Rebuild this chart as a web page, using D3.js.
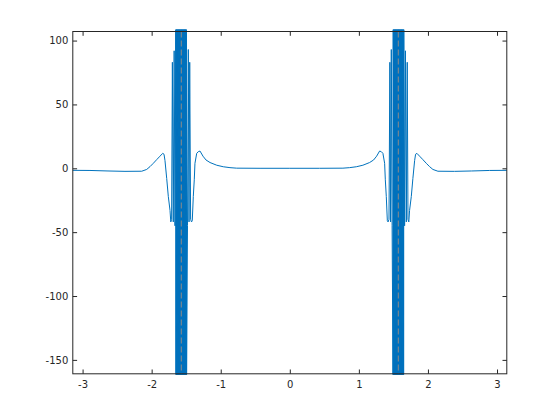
<!DOCTYPE html>
<html>
<head>
<meta charset="utf-8">
<script src="https://cdn.jsdelivr.net/npm/d3@7"></script>
<style>
  html, body { margin: 0; padding: 0; background: #fff; }
  svg { display: block; }
  .tick text { font-family: "DejaVu Sans", sans-serif; font-size: 10px; fill: #262626; }
</style>
</head>
<body>
<svg id="chart" width="560" height="420"></svg>
<script>
// ---- data ----
const xDomain = [-Math.PI, Math.PI];
const yDomain = [-160.9, 107.1];
const xTicks = [-3, -2, -1, 0, 1, 2, 3];
const yTicks = [-150, -100, -50, 0, 50, 100];
const asymptotes = [-Math.PI / 2, Math.PI / 2];

const outerLeftX = [
  -3.1416, -2.893, -2.632, -2.386, -2.144, -2.072, -2.024, -1.976, -1.923, -1.879,
  -1.840, -1.821, -1.807, -1.782, -1.759, -1.734, -1.723, -1.711, -1.700, -1.687,
  -1.674, -1.662
];
const outerLeftY = [
  -1.6, -1.7, -2.1, -2.4, -2.3, -0.9, 1.3, 3.9, 7.0, 9.5,
  11.7, 11.0, 6.0, -8, -22, -33, -42, -40, 83, -42,
  92, -45
];
const bandLeftX = [
  -1.6505, -1.6478, -1.6450, -1.6423, -1.6395, -1.6368, -1.6341, -1.6313, -1.6286, -1.6258,
  -1.6231, -1.6204, -1.6176, -1.6149, -1.6121, -1.6094, -1.6067, -1.6039, -1.6012, -1.5984,
  -1.5957, -1.5930, -1.5902, -1.5875, -1.5847, -1.5820, -1.5793, -1.5765, -1.5738, -1.5710,
  -1.5683, -1.5656, -1.5628, -1.5601, -1.5573, -1.5546, -1.5519, -1.5491, -1.5464, -1.5436,
  -1.5409, -1.5382, -1.5354, -1.5327, -1.5299, -1.5272, -1.5245, -1.5217, -1.5190, -1.5162,
  -1.5135, -1.5108, -1.5080, -1.5053, -1.5025, -1.4998, -1.4971, -1.4943
];
const bandLeftY = [
  108.5, -161.5, 108.5, -161.5, 108.5, -161.5, 108.5, -161.5, 108.5, -161.5,
  108.5, -161.5, 108.5, -161.5, 108.5, -161.5, 108.5, -161.5, 108.5, -161.5,
  108.5, -161.5, 108.5, -161.5, 108.5, -161.5, 108.5, -161.5, 108.5, -161.5,
  108.5, -161.5, 108.5, -161.5, 108.5, -161.5, 108.5, -161.5, 108.5, -161.5,
  108.5, -161.5, 108.5, -161.5, 108.5, -161.5, 108.5, -161.5, 108.5, -161.5,
  108.5, -161.5, 108.5, -161.5, 108.5, -161.5, 108.5, -161.5
];
const middleX = [
  -1.481, -1.4695, -1.459, -1.449, -1.436, -1.423, -1.412, -1.397, -1.383, -1.373,
  -1.348, -1.325, -1.300, -1.257, -1.213, -1.155, -1.058, -0.963, -0.866, -0.769,
  -0.431, 0, 0.431,
  0.769, 0.866, 0.963, 1.058, 1.155, 1.213, 1.257, 1.300, 1.325, 1.348,
  1.373, 1.383, 1.397, 1.412, 1.423, 1.436, 1.449, 1.459, 1.4695, 1.481
];
const middleY = [
  -45, 93, -42, 83, -40, -42, -41, -22, -9, 3.9,
  11.7, 13, 13.5, 9.5, 6.5, 4.5, 2.4, 1.2, 0.5, 0.1,
  0, 0, 0,
  0.1, 0.5, 1.2, 2.4, 4.5, 6.5, 9.5, 13.5, 13, 11.7,
  3.9, -9, -22, -41, -42, -40, 83, -42, 93, -45
];
const bandRightX = [
  1.4943, 1.4971, 1.4998, 1.5025, 1.5053, 1.5080, 1.5108, 1.5135, 1.5162, 1.5190,
  1.5217, 1.5245, 1.5272, 1.5299, 1.5327, 1.5354, 1.5382, 1.5409, 1.5436, 1.5464,
  1.5491, 1.5519, 1.5546, 1.5573, 1.5601, 1.5628, 1.5656, 1.5683, 1.5710, 1.5738,
  1.5765, 1.5793, 1.5820, 1.5847, 1.5875, 1.5902, 1.5930, 1.5957, 1.5984, 1.6012,
  1.6039, 1.6067, 1.6094, 1.6121, 1.6149, 1.6176, 1.6204, 1.6231, 1.6258, 1.6286,
  1.6313, 1.6341, 1.6368, 1.6395, 1.6423, 1.6450, 1.6478, 1.6505
];
const bandRightY = [
  -161.5, 108.5, -161.5, 108.5, -161.5, 108.5, -161.5, 108.5, -161.5, 108.5,
  -161.5, 108.5, -161.5, 108.5, -161.5, 108.5, -161.5, 108.5, -161.5, 108.5,
  -161.5, 108.5, -161.5, 108.5, -161.5, 108.5, -161.5, 108.5, -161.5, 108.5,
  -161.5, 108.5, -161.5, 108.5, -161.5, 108.5, -161.5, 108.5, -161.5, 108.5,
  -161.5, 108.5, -161.5, 108.5, -161.5, 108.5, -161.5, 108.5, -161.5, 108.5,
  -161.5, 108.5, -161.5, 108.5, -161.5, 108.5, -161.5, 108.5
];
const outerRightX = [
  1.662, 1.674, 1.687, 1.700, 1.711, 1.723, 1.734, 1.759, 1.782, 1.807,
  1.821, 1.840, 1.879, 1.923, 1.976, 2.024, 2.072, 2.144, 2.386, 2.632,
  2.893, 3.1416
];
const outerRightY = [
  -45, 92, -42, 83, -40, -42, -33, -22, -8, 6.0,
  11.0, 11.7, 9.5, 7.0, 3.9, 1.3, -0.9, -2.3, -2.4, -2.1,
  -1.7, -1.6
];

const xs = [].concat(outerLeftX, bandLeftX, middleX, bandRightX, outerRightX);
const ys = [].concat(outerLeftY, bandLeftY, middleY, bandRightY, outerRightY);

// ---- layout ----
const svg = d3.select("#chart");
const plotLeft = 72.8, plotRight = 506.8, plotTop = 31.5, plotBottom = 373.8;
const x = d3.scaleLinear().domain(xDomain).range([plotLeft, plotRight]);
const y = d3.scaleLinear().domain(yDomain).range([plotBottom, plotTop]);
const axisColor = "#262626";

const points = xs.map((d, i) => [d, ys[i]]);
const line = d3.line().x(d => x(d[0])).y(d => y(d[1]));

svg.append("path")
  .datum(points)
  .attr("d", line)
  .attr("fill", "none")
  .attr("stroke", "#0072BD")
  .attr("stroke-width", 1)
  .attr("stroke-linejoin", "miter");

svg.selectAll("line.asym")
  .data(asymptotes)
  .enter().append("line")
  .attr("class", "asym")
  .attr("x1", d => x(d)).attr("x2", d => x(d))
  .attr("y1", y(yDomain[1])).attr("y2", y(yDomain[0]))
  .attr("stroke", "#8a8a8a")
  .attr("stroke-width", 1)
  .attr("stroke-dasharray", "6,3");

function styleAxis(g) {
  g.select(".domain").remove();
  g.selectAll(".tick line").attr("stroke", axisColor);
}

svg.append("g")
  .attr("transform", `translate(0,${plotBottom})`)
  .call(d3.axisBottom(x).tickValues(xTicks).tickSizeInner(-4.3).tickSizeOuter(0)
    .tickPadding(7).tickFormat(d => String(d)))
  .call(styleAxis);
svg.append("g")
  .attr("transform", `translate(0,${plotTop})`)
  .call(d3.axisTop(x).tickValues(xTicks).tickSizeInner(-4.3).tickSizeOuter(0).tickFormat(""))
  .call(styleAxis);
svg.append("g")
  .attr("transform", `translate(${plotLeft},0)`)
  .call(d3.axisLeft(y).tickValues(yTicks).tickSizeInner(-4.3).tickSizeOuter(0)
    .tickPadding(4.5).tickFormat(d => String(d)))
  .call(styleAxis);
svg.append("g")
  .attr("transform", `translate(${plotRight},0)`)
  .call(d3.axisRight(y).tickValues(yTicks).tickSizeInner(-4.3).tickSizeOuter(0).tickFormat(""))
  .call(styleAxis);

svg.append("rect")
  .attr("x", plotLeft).attr("y", plotTop)
  .attr("width", plotRight - plotLeft).attr("height", plotBottom - plotTop)
  .attr("fill", "none")
  .attr("stroke", axisColor)
  .attr("stroke-width", 1);
</script>
</body>
</html>
